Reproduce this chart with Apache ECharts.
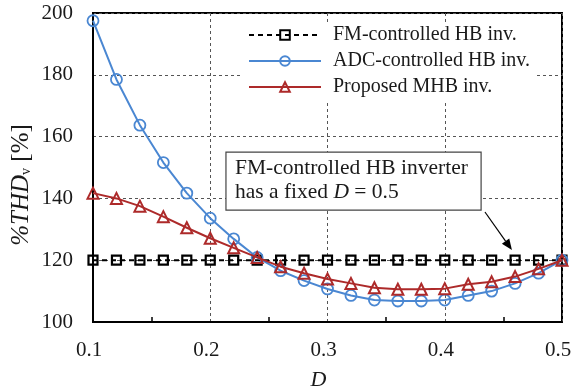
<!DOCTYPE html>
<html>
<head>
<meta charset="utf-8">
<script src="https://cdn.jsdelivr.net/npm/echarts@6/dist/echarts.min.js"></script>
<style>
html,body{margin:0;padding:0;background:#fff;}
#c{width:573px;height:387px;}
</style>
</head>
<body>
<div id="c"></div>
<script>
// ---- data ----
const dutyCycle = [0.10,0.12,0.14,0.16,0.18,0.20,0.22,0.24,0.26,0.28,0.30,0.32,0.34,0.36,0.38,0.40,0.42,0.44,0.46,0.48,0.50];
const fmThd  = [120,120,120,120,120,120,120,120,120,120,120,120,120,120,120,120,120,120,120,120,120];
const adcThd = [197.5,178.5,163.7,151.6,141.7,133.6,126.9,120.9,116.6,113.4,110.7,108.6,107.1,106.8,106.8,107.1,108.6,110.0,112.5,115.8,120.0];
const mhbThd = [141.7,140.0,137.5,134.1,130.5,127.1,124.0,120.9,117.9,115.8,113.9,112.5,111.1,110.6,110.6,110.8,112.2,113.0,114.7,117.2,120.0];
const seriesNames = ['FM-controlled HB inv.','ADC-controlled HB inv.','Proposed MHB inv.'];
const xTicks = [0.1,0.2,0.3,0.4,0.5];
const xMinorTicks = [0.15,0.25,0.35,0.45];
const yTicks = [100,120,140,160,180,200];

const FONT = 'Liberation Serif, Times New Roman, serif';
const pairs = (xs, ys) => xs.map((x, i) => [x, ys[i]]);

const chart = echarts.init(document.getElementById('c'), null, {renderer: 'canvas'});

const option = {
  animation: false,
  backgroundColor: '#fff',
  grid: {left: 93, right: 11, top: 13, bottom: 65, outerBoundsMode: 'none', containLabel: false,
         show: true, borderColor: '#000', borderWidth: 2, backgroundColor: 'transparent'},
  legend: {
    left: 243, top: 22,
    orient: 'vertical',
    backgroundColor: '#fff',
    padding: [3, 4, 4, 5],
    itemWidth: 72, itemHeight: 12, itemGap: 6,
    textStyle: {fontFamily: FONT, fontSize: 20, color: '#1a1a1a', padding: [0, 0, 0, 7]},
    data: seriesNames
  },
  xAxis: [
    {
      type: 'value', position: 'bottom', min: xTicks[0], max: xTicks[xTicks.length - 1], interval: 0.1,
      axisLine: {show: true, lineStyle: {color: '#000', width: 2}},
      axisTick: {show: false},
      splitLine: {show: true, lineStyle: {color: '#555', width: 1, type: [3, 3]}},
      axisLabel: {fontFamily: FONT, fontSize: 21, color: '#1a1a1a', margin: 18, padding: [0, 8, 0, 0],
                  formatter: v => v.toFixed(1)},
      name: 'D', nameLocation: 'middle', nameGap: 47,
      nameTextStyle: {fontFamily: FONT, fontSize: 22, fontStyle: 'italic', color: '#1a1a1a', padding: [0, 18, 0, 0]}
    },
    {
      // minor tick marks only
      type: 'value', position: 'bottom', offset: 0, min: xTicks[0], max: xTicks[xTicks.length - 1],
      axisLine: {show: false},
      axisTick: {show: true, inside: true, length: 5, customValues: xMinorTicks, lineStyle: {color: '#000', width: 1.5}},
      splitLine: {show: false},
      axisLabel: {show: false}
    }
  ],
  yAxis: {
    type: 'value', min: yTicks[0], max: yTicks[yTicks.length - 1], interval: 20,
    axisLine: {show: true, lineStyle: {color: '#000', width: 2}},
    axisTick: {show: false},
    splitLine: {show: true, lineStyle: {color: '#555', width: 1, type: [3, 3]}},
    axisLabel: {fontFamily: FONT, fontSize: 21, color: '#1a1a1a', margin: 20}
  },
  series: [
    {
      name: seriesNames[0], type: 'line', xAxisIndex: 0, data: pairs(dutyCycle, fmThd),
      symbol: 'rect', symbolSize: 9,
      lineStyle: {color: '#000', width: 2, type: [5, 4]},
      itemStyle: {color: 'rgba(255,255,255,0)', borderColor: '#000', borderWidth: 2.2}, z: 3
    },
    {
      name: seriesNames[1], type: 'line', xAxisIndex: 0, data: pairs(dutyCycle, adcThd),
      symbol: 'circle', symbolSize: 11,
      lineStyle: {color: '#4a87d2', width: 2},
      itemStyle: {color: 'rgba(255,255,255,0)', borderColor: '#4a87d2', borderWidth: 1.8}, z: 4
    },
    {
      name: seriesNames[2], type: 'line', xAxisIndex: 0, data: pairs(dutyCycle, mhbThd),
      symbol: 'triangle', symbolSize: 11,
      lineStyle: {color: '#ad2a2a', width: 2},
      itemStyle: {color: 'rgba(255,255,255,0)', borderColor: '#ad2a2a', borderWidth: 2}, z: 5
    }
  ]
};
chart.setOption(option);

// ---- annotation (callout box and arrow), anchored in data coordinates ----
const boxTL = [0.2134, 155.0];
const boxBR = [0.431, 136.2];
const arrowFrom = [0.4343, 135.6];
const arrowTo = [0.4573, 123.3];
const px = p => chart.convertToPixel({xAxisIndex: 0, yAxisIndex: 0}, p);
const tl = px(boxTL), br = px(boxBR), a0 = px(arrowFrom), a1 = px(arrowTo);
const ang = Math.atan2(a1[1] - a0[1], a1[0] - a0[0]);
const hl = 11, hw = 4.5;
const base = [a1[0] - hl * Math.cos(ang), a1[1] - hl * Math.sin(ang)];
const nx = -Math.sin(ang), ny = Math.cos(ang);
chart.setOption({
  graphic: [
    {type: 'line', z: 50, shape: {x1: a0[0], y1: a0[1], x2: base[0], y2: base[1]}, style: {stroke: '#000', lineWidth: 1.2}},
    {type: 'polygon', z: 50, shape: {points: [a1, [base[0] + nx * hw, base[1] + ny * hw], [base[0] - nx * hw, base[1] - ny * hw]]}, style: {fill: '#000'}},
    {type: 'rect', z: 51, shape: {x: tl[0], y: tl[1], width: br[0] - tl[0], height: br[1] - tl[1]}, style: {fill: '#fff', stroke: '#444', lineWidth: 1.2}},
    {type: 'text', z: 52, x: tl[0] + 9, y: tl[1] + 4,
      style: {
        text: 'FM-controlled HB inverter\nhas a fixed {i|D} = 0.5',
        fontFamily: FONT, fontSize: 21.5, fill: '#1a1a1a', lineHeight: 24,
        rich: {i: {fontFamily: FONT, fontSize: 21.5, fontStyle: 'italic', fill: '#1a1a1a', lineHeight: 24}}
      }
    },
    // y-axis title
    {type: 'text', z: 52, x: 21, y: 185, rotation: Math.PI / 2,
      style: {
        text: '{a|%THD}{s|v}{b| [%]}',
        align: 'center', verticalAlign: 'middle',
        fontFamily: FONT, fontSize: 25, fill: '#1a1a1a',
        rich: {
          a: {fontFamily: FONT, fontSize: 25, fontStyle: 'italic', fill: '#1a1a1a'},
          s: {fontFamily: FONT, fontSize: 14, fill: '#1a1a1a', verticalAlign: 'bottom', padding: [10, 0, 0, 0]},
          b: {fontFamily: FONT, fontSize: 25, fill: '#1a1a1a'}
        }
      }
    }
  ]
});
</script>
</body>
</html>
